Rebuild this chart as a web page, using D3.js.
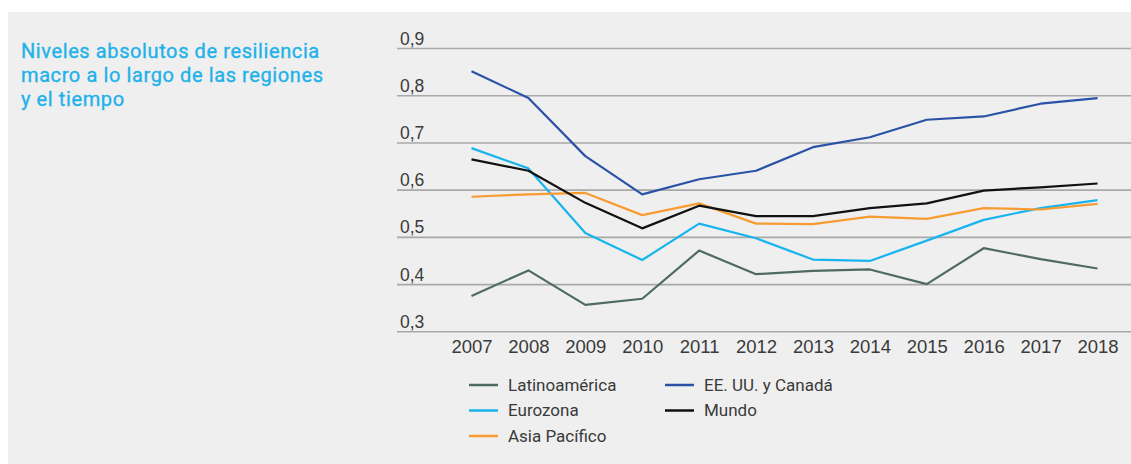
<!DOCTYPE html>
<html>
<head>
<meta charset="utf-8">
<script src="https://cdn.jsdelivr.net/npm/d3@7"></script>
<style>
  body { margin: 0; background: #fff; }
  svg { display: block; font-family: Roboto, "Liberation Sans", Arial, sans-serif; }
</style>
</head>
<body>
<div id="chart"></div>
<script>
// data
var years = [2007, 2008, 2009, 2010, 2011, 2012, 2013, 2014, 2015, 2016, 2017, 2018];
var yTicks = [0.3, 0.4, 0.5, 0.6, 0.7, 0.8, 0.9];

var latam    = [0.375, 0.429, 0.356, 0.369, 0.471, 0.421, 0.428, 0.431, 0.400, 0.476, 0.453, 0.433];
var eurozona = [0.688, 0.645, 0.508, 0.451, 0.528, 0.497, 0.452, 0.449, 0.492, 0.536, 0.561, 0.578];
var asiaPac  = [0.585, 0.590, 0.593, 0.546, 0.571, 0.528, 0.527, 0.543, 0.538, 0.561, 0.558, 0.570];
var eeuu     = [0.851, 0.794, 0.671, 0.590, 0.622, 0.640, 0.690, 0.711, 0.748, 0.755, 0.782, 0.794];
var mundo    = [0.664, 0.640, 0.572, 0.518, 0.566, 0.544, 0.544, 0.561, 0.571, 0.598, 0.605, 0.613];

var seriesNames = ["Latinoamérica", "Eurozona", "Asia Pacífico", "EE. UU. y Canadá", "Mundo"];
var titleLines = ["Niveles absolutos de resiliencia", "macro a lo largo de las regiones", "y el tiempo"];

var series = [
  { name: seriesNames[0], values: latam,    color: "#4e6b62" },
  { name: seriesNames[1], values: eurozona, color: "#18b4ee" },
  { name: seriesNames[2], values: asiaPac,  color: "#f89c32" },
  { name: seriesNames[3], values: eeuu,     color: "#2a52a6" },
  { name: seriesNames[4], values: mundo,    color: "#111111" }
];

var svgWidth = 1131;
var svgHeight = 464;

var svg = d3.select("#chart")
  .append("svg")
  .attr("width", svgWidth)
  .attr("height", svgHeight);

// grey panel
svg.append("rect")
  .attr("x", 8)
  .attr("y", 12)
  .attr("width", svgWidth - 8)
  .attr("height", svgHeight - 12)
  .attr("fill", "#efefef");

// title
svg.append("text")
  .attr("x", 21)
  .attr("y", 58)
  .attr("fill", "#1fb2ea")
  .attr("stroke", "#1fb2ea")
  .attr("stroke-width", 0.35)
  .attr("font-size", "20px")
  .attr("letter-spacing", "0.6px")
  .selectAll("tspan")
  .data(titleLines)
  .enter()
  .append("tspan")
  .attr("x", 21)
  .attr("dy", (d, i) => i === 0 ? 0 : 24)
  .text(d => d);

// scales
var gridLeft = 397;
var x = d3.scaleLinear().domain([2007, 2018]).range([471.5, 1097.5]);
var y = d3.scaleLinear().domain([0.3, 0.9]).range([331.3, 48]);

// y grid + labels
var yAxis = svg.append("g")
  .attr("transform", `translate(${gridLeft},0)`)
  .call(d3.axisRight(y)
    .tickValues(yTicks)
    .tickSize(svgWidth - gridLeft)
    .tickFormat(d => d.toFixed(1).replace(".", ",")));

yAxis.select(".domain").remove();
yAxis.selectAll(".tick line")
  .attr("stroke", "#a9a9a9")
  .attr("stroke-width", 1.6);
yAxis.selectAll(".tick text")
  .attr("x", 3)
  .attr("dy", "-4")
  .attr("text-anchor", "start")
  .attr("fill", "#3a3a3a")
  .attr("font-size", "17.5px");

// x labels
var xAxis = svg.append("g")
  .attr("transform", `translate(0,${y(0.3)})`)
  .call(d3.axisBottom(x)
    .tickValues(years)
    .tickSize(0)
    .tickPadding(9)
    .tickFormat(d3.format("d")));

xAxis.select(".domain").remove();
xAxis.selectAll(".tick text")
  .attr("fill", "#3a3a3a")
  .attr("font-size", "18.5px");

// lines
var line = d3.line()
  .x((d, i) => x(years[i]))
  .y(d => y(d));

svg.selectAll(".series")
  .data(series)
  .enter()
  .append("path")
  .attr("class", "series")
  .attr("d", d => line(d.values))
  .attr("fill", "none")
  .attr("stroke", d => d.color)
  .attr("stroke-width", 2.2)
  .attr("stroke-linejoin", "round");

// legend
var legendPos = [
  { x: 469, y: 385 },
  { x: 469, y: 410.5 },
  { x: 469, y: 436 },
  { x: 665, y: 385 },
  { x: 665, y: 410.5 }
];

var legend = svg.selectAll(".legend")
  .data(series)
  .enter()
  .append("g")
  .attr("class", "legend")
  .attr("transform", (d, i) => `translate(${legendPos[i].x},${legendPos[i].y})`);

legend.append("line")
  .attr("x1", 0)
  .attr("x2", 29)
  .attr("stroke", d => d.color)
  .attr("stroke-width", 2.5);

legend.append("text")
  .attr("x", 39)
  .attr("dy", "0.35em")
  .attr("fill", "#3a3a3a")
  .attr("font-size", "17px")
  .text(d => d.name);
</script>
</body>
</html>
